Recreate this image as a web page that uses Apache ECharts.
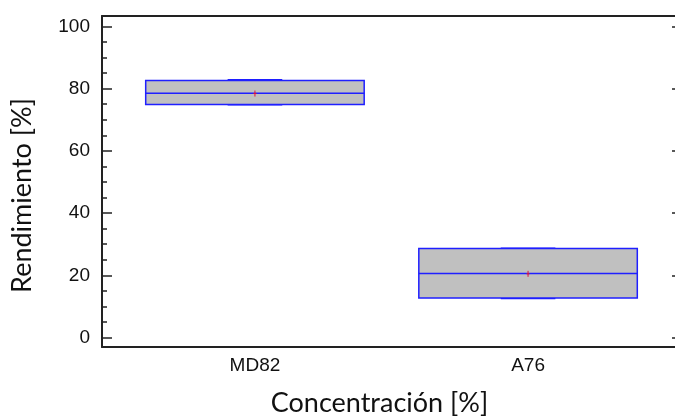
<!DOCTYPE html>
<html>
<head>
<meta charset="utf-8">
<script src="https://cdn.jsdelivr.net/npm/echarts@6/dist/echarts.min.js"></script>
<style>
html, body { margin: 0; padding: 0; background: #fff; }
#chart { width: 675px; height: 419px; }
</style>
</head>
<body>
<div id="chart"></div>
<script>
// datos
var categories = ['MD82', 'A76'];
var positions = [1, 2];
var mins = [74.8, 12.6];
var q1s = [74.9, 12.7];
var medians = [78.5, 20.6];
var q3s = [82.6, 28.6];
var maxs = [82.8, 28.7];
var means = [78.4, 20.5];
var yMajor = [0, 20, 40, 60, 80, 100];
var yMinor = [5, 10, 15, 25, 30, 35, 45, 50, 55, 65, 70, 75, 85, 90, 95];

var boxData = positions.map(function (p, i) {
	return [p, mins[i], q1s[i], medians[i], q3s[i], maxs[i], means[i]];
});

var lineColor = '#222';
var blue = '#1f1fff';

function renderBox(params, api)
{
	var x = api.value(0);
	var half = api.size([0.4, 0])[0];
	var capHalf = api.size([0.1, 0])[0];
	var pMin = api.coord([x, api.value(1)]);
	var pQ1 = api.coord([x, api.value(2)]);
	var pMed = api.coord([x, api.value(3)]);
	var pQ3 = api.coord([x, api.value(4)]);
	var pMax = api.coord([x, api.value(5)]);
	var pMean = api.coord([x, api.value(6)]);
	var cx = pMed[0];
	var lineStyle = { stroke: blue, lineWidth: 1.5 };
	return {
		type: 'group',
		children: [
			{ type: 'line', shape: { x1: cx - capHalf, y1: pMin[1], x2: cx + capHalf, y2: pMin[1] }, style: lineStyle },
			{ type: 'line', shape: { x1: cx - capHalf, y1: pMax[1], x2: cx + capHalf, y2: pMax[1] }, style: lineStyle },
			{
				type: 'rect',
				shape: { x: cx - half, y: pQ3[1], width: half * 2, height: pQ1[1] - pQ3[1] },
				style: { fill: '#c0c0c0', stroke: blue, lineWidth: 1.5 }
			},
			{ type: 'line', shape: { x1: cx - half, y1: pMed[1], x2: cx + half, y2: pMed[1] }, style: lineStyle },
			{ type: 'line', shape: { x1: pMean[0], y1: pMean[1] - 3, x2: pMean[0], y2: pMean[1] + 3 }, style: { stroke: '#e0103a', lineWidth: 1 } },
			{ type: 'line', shape: { x1: pMean[0] - 1.5, y1: pMean[1], x2: pMean[0] + 1.5, y2: pMean[1] }, style: { stroke: '#e0103a', lineWidth: 1 } }
		]
	};
}

var option = {
	backgroundColor: '#fff',
	animation: false,
	grid: { left: 102, top: 16, right: -6, bottom: 72, containLabel: false, outerBoundsMode: 'none' },
	xAxis: [
		{
			type: 'value',
			position: 'bottom',
			min: 0.44,
			max: 2.56,
			splitLine: { show: false },
			axisLine: { show: true, onZero: false, lineStyle: { color: lineColor, width: 2 } },
			axisTick: { show: false },
			axisLabel: {
				customValues: positions,
				formatter: function (v) { return categories[Math.round(v) - 1]; },
				fontFamily: 'Liberation Sans',
				fontSize: 19,
				color: '#111',
				margin: 9
			},
			name: 'Concentración [%]',
			nameLocation: 'middle',
			nameGap: 43,
			nameTextStyle: { fontFamily: 'Lato', fontSize: 27, color: '#111', padding: [0, 24, 0, 0] }
		},
		{
			type: 'value',
			position: 'top',
			min: 0.44,
			max: 2.56,
			splitLine: { show: false },
			axisLine: { show: true, onZero: false, lineStyle: { color: lineColor, width: 2 } },
			axisTick: { show: false },
			axisLabel: { show: false }
		}
	],
	yAxis: [
		{
			type: 'value',
			position: 'left',
			min: -3,
			max: 103.3,
			splitLine: { show: false },
			axisLine: { show: true, onZero: false, lineStyle: { color: lineColor, width: 2 } },
			axisTick: { show: true, inside: true, length: 10, customValues: yMajor, lineStyle: { color: lineColor, width: 1.5 } },
			axisLabel: {
				customValues: yMajor,
				fontFamily: 'Liberation Sans',
				fontSize: 19,
				color: '#111',
				margin: 12
			},
			name: 'Rendimiento [%]',
			nameLocation: 'middle',
			nameGap: 66,
			nameTextStyle: { fontFamily: 'Lato', fontSize: 27, color: '#111', padding: [0, 28, 0, 0] }
		},
		{
			type: 'value',
			position: 'left',
			min: -3,
			max: 103.3,
			splitLine: { show: false },
			axisLine: { show: false },
			axisTick: { show: true, inside: true, length: 5, customValues: yMinor, lineStyle: { color: lineColor, width: 1.5 } },
			axisLabel: { show: false }
		},
		{
			type: 'value',
			position: 'right',
			min: -3,
			max: 103.3,
			splitLine: { show: false },
			axisLine: { show: true, onZero: false, lineStyle: { color: lineColor, width: 2 } },
			axisTick: { show: true, inside: true, length: 9, customValues: yMajor, lineStyle: { color: lineColor, width: 1.5 } },
			axisLabel: { show: false }
		}
	],
	series: [
		{
			type: 'custom',
			xAxisIndex: 0,
			yAxisIndex: 0,
			renderItem: renderBox,
			encode: { x: 0, y: [1, 2, 3, 4, 5, 6] },
			data: boxData
		}
	]
};

var chart = echarts.init(document.getElementById('chart'));
chart.setOption(option);
</script>
</body>
</html>
